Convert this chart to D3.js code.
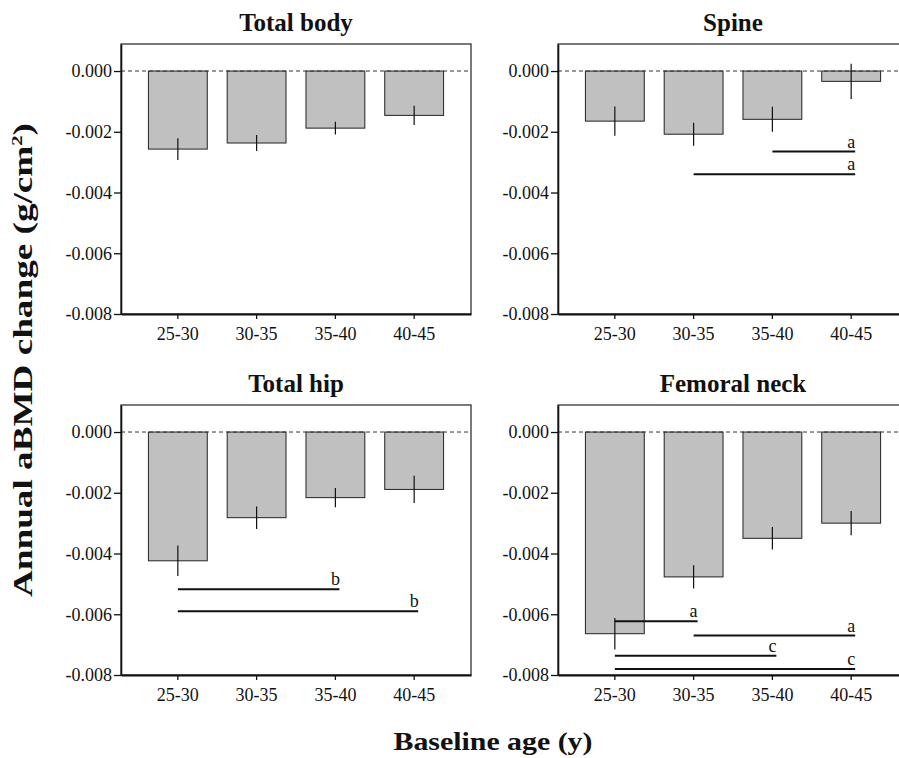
<!DOCTYPE html>
<meta charset="utf-8">
<style>
body { margin: 0; background: #fff; }
text { font-family: "Liberation Serif", "Times New Roman", serif; fill: #111; }
.title { font-size: 25px; font-weight: bold; }
.axis-title { font-weight: bold; }
.bar { fill: #c0c0c0; stroke: #222; stroke-width: 1; }
.err { stroke: #111; stroke-width: 1.2; }
.zero { stroke: #333; stroke-width: 1; stroke-dasharray: 4,3; }
.frame { fill: none; stroke: #333; stroke-width: 1.3; }
.sig { stroke: #111; stroke-width: 2; }
.sig-label { font-size: 18px; }
</style>
<body>
<div id="chart"></div>
<script src="https://d3js.org/d3.v7.min.js"></script>
<script>

var ageGroups = ["25-30", "30-35", "35-40", "40-45"];
var panelTitles = ["Total body", "Spine", "Total hip", "Femoral neck"];
var yTicks = [0, -0.002, -0.004, -0.006, -0.008];

// mean annual change and error per age group
var totalBody = [-0.00257, -0.00237, -0.00188, -0.00146];
var totalBodyErr = [0.00036, 0.00026, 0.00021, 0.00032];
var spine = [-0.00165, -0.00208, -0.00159, -0.00034];
var spineErr = [0.00048, 0.00038, 0.00041, 0.00058];
var totalHip = [-0.00424, -0.00282, -0.00216, -0.00189];
var totalHipErr = [0.0005, 0.00037, 0.00032, 0.00045];
var femoralNeck = [-0.00664, -0.00477, -0.0035, -0.003];
var femoralNeckErr = [0.00052, 0.00038, 0.00037, 0.0004];

// significance lines: [from group, to group, level, letter]
var totalBodySig = [];
var spineSig = [["35-40", "40-45", -0.00265, "a"], ["30-35", "40-45", -0.0034, "a"]];
var totalHipSig = [["25-30", "35-40", -0.00518, "b"], ["25-30", "40-45", -0.0059, "b"]];
var femoralNeckSig = [
    ["25-30", "30-35", -0.00623, "a"],
    ["30-35", "40-45", -0.0067, "a"],
    ["25-30", "35-40", -0.00737, "c"],
    ["25-30", "40-45", -0.0078, "c"]
];

var panels = [
    { title: panelTitles[0], mean: totalBody, err: totalBodyErr, sig: totalBodySig },
    { title: panelTitles[1], mean: spine, err: spineErr, sig: spineSig },
    { title: panelTitles[2], mean: totalHip, err: totalHipErr, sig: totalHipSig },
    { title: panelTitles[3], mean: femoralNeck, err: femoralNeckErr, sig: femoralNeckSig }
];

var width = 899,
    height = 758,
    panelW = 350,
    panelH = 270,
    panelX = [121, 558],
    panelY = [44, 405],
    serif = "'Liberation Serif', 'Times New Roman', serif";

var svg = d3.select("#chart").append("svg")
    .attr("width", width)
    .attr("height", height);

var x = d3.scaleBand()
    .domain(ageGroups)
    .range([0, panelW])
    .paddingInner(0.253)
    .paddingOuter(0.348);

var y = d3.scaleLinear()
    .domain([-0.008, 0.00089])
    .range([panelH, 0]);

function styleAxis(a, domainWidth) {
    a.attr("font-family", serif).attr("font-size", 18);
    a.select(".domain").attr("stroke", "#111").attr("stroke-width", domainWidth);
    a.selectAll(".tick line").attr("stroke", "#111").attr("stroke-width", 1.3);
    a.selectAll(".tick text")
        .attr("fill", "#111")
        .style("font-family", serif)
        .style("font-size", "18px");
}

panels.forEach(function(p, i) {
    var g = svg.append("g")
        .attr("transform", "translate(" + panelX[i % 2] + "," + panelY[Math.floor(i / 2)] + ")");

    g.append("rect")
        .attr("class", "frame")
        .attr("width", panelW)
        .attr("height", panelH);

    var rows = ageGroups.map(function(a, j) {
        return { group: a, mean: p.mean[j], err: p.err[j] };
    });

    g.selectAll("rect.bar")
        .data(rows)
        .enter()
        .append("rect")
        .attr("class", "bar")
        .attr("x", function(d) { return x(d.group); })
        .attr("y", y(0))
        .attr("width", x.bandwidth())
        .attr("height", function(d) { return y(d.mean) - y(0); });

    g.append("line")
        .attr("class", "zero")
        .attr("x1", 0).attr("x2", panelW)
        .attr("y1", y(0)).attr("y2", y(0));

    g.selectAll("line.err")
        .data(rows)
        .enter()
        .append("line")
        .attr("class", "err")
        .attr("x1", function(d) { return x(d.group) + x.bandwidth() / 2; })
        .attr("x2", function(d) { return x(d.group) + x.bandwidth() / 2; })
        .attr("y1", function(d) { return y(d.mean + d.err); })
        .attr("y2", function(d) { return y(d.mean - d.err); });

    var cx = function(a) { return x(a) + x.bandwidth() / 2; };

    g.selectAll("line.sig")
        .data(p.sig)
        .enter()
        .append("line")
        .attr("class", "sig")
        .attr("x1", function(d) { return cx(d[0]); })
        .attr("x2", function(d) { return cx(d[1]) + 4; })
        .attr("y1", function(d) { return y(d[2]); })
        .attr("y2", function(d) { return y(d[2]); });

    g.selectAll("text.sig-label")
        .data(p.sig)
        .enter()
        .append("text")
        .attr("class", "sig-label")
        .attr("text-anchor", "middle")
        .attr("x", function(d) { return cx(d[1]); })
        .attr("y", function(d) { return y(d[2]) - 4; })
        .text(function(d) { return d[3]; });

    var yAxis = g.append("g")
        .call(d3.axisLeft(y)
            .tickValues(yTicks)
            .tickSize(7)
            .tickSizeOuter(0)
            .tickPadding(2)
            .tickFormat(function(d) { return d.toFixed(3); }));
    styleAxis(yAxis, 1.6);

    var xAxis = g.append("g")
        .attr("transform", "translate(0," + panelH + ")")
        .call(d3.axisBottom(x).tickSize(5).tickSizeOuter(0).tickPadding(8));
    styleAxis(xAxis, 2);

    g.append("text")
        .attr("class", "title")
        .attr("text-anchor", "middle")
        .attr("x", panelW / 2)
        .attr("y", -13)
        .text(p.title);
});

svg.append("text")
    .attr("class", "axis-title")
    .attr("transform", "translate(32,360) rotate(-90)")
    .attr("text-anchor", "middle")
    .style("font-size", "27px")
    .attr("textLength", 474)
    .attr("lengthAdjust", "spacingAndGlyphs")
    .html("Annual aBMD change (g/cm<tspan dy='-10' style='font-size:15px'>2</tspan><tspan dy='10'>)</tspan>");

svg.append("text")
    .attr("class", "axis-title")
    .attr("x", 493)
    .attr("y", 750)
    .attr("text-anchor", "middle")
    .style("font-size", "26px")
    .attr("textLength", 199)
    .attr("lengthAdjust", "spacingAndGlyphs")
    .text("Baseline age (y)");

</script>
</body>
